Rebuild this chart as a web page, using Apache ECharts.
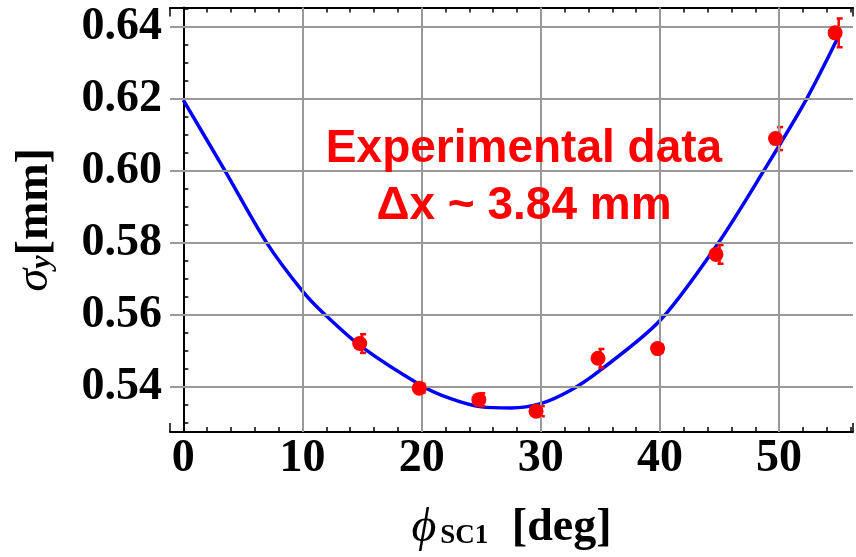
<!DOCTYPE html>
<html>
<head>
<meta charset="utf-8">
<script src="https://cdn.jsdelivr.net/npm/echarts@6/dist/echarts.min.js"></script>
</head>
<body style="margin:0">
<div id="main" style="width:856px;height:557px"></div>
<script type="text/javascript">
// grid line positions
var xGrid = [10, 20, 30, 40, 50];
var yGrid = [0.54, 0.56, 0.58, 0.60, 0.62, 0.64];

// measured points (disk centres as drawn, bars at nominal angle)
var angleNominal = [15, 20, 25, 30, 35, 40, 45, 50, 55];
var angleMarker = [14.8, 19.8, 24.8, 29.6, 34.8, 39.8, 44.7, 49.7, 54.7];
var sigmaMeasured = [0.5520, 0.5396, 0.5364, 0.5332, 0.5479, 0.5506, 0.5768, 0.6090, 0.6384];
var sigmaError = [0.0026, 0.0012, 0.0018, 0.0014, 0.0026, 0.0010, 0.0026, 0.0032, 0.0040];

// fitted curve
var fitAngle = [0, 3.5, 7, 10, 11.9, 15, 20, 22.5, 25, 27.5, 30, 32.5, 35, 40, 44.9, 48.7, 52.3, 55];
var fitSigma = [0.6197, 0.6000, 0.5800, 0.5666, 0.5600, 0.5510, 0.5403, 0.5366, 0.5344, 0.5341, 0.5353, 0.5390, 0.5446, 0.5584, 0.5800, 0.6000, 0.6200, 0.6375];

var serif = 'Liberation Serif';

var fitData = fitAngle.map(function (a, i) { return [a, fitSigma[i]]; });
var markerData = angleMarker.map(function (a, i) { return [a, sigmaMeasured[i]]; });
var errData = angleNominal.map(function (a, i) { return [a, sigmaMeasured[i], sigmaError[i]]; });

var gridLines = xGrid.map(function (v) { return {xAxis: v}; })
    .concat(yGrid.map(function (v) { return {yAxis: v}; }));

function isMultiple(v, step) {
    var q = v / step;
    return Math.abs(q - Math.round(q)) < 1e-6;
}

var tickStyle = {show: true, inside: true, length: 9, lineStyle: {color: '#000', width: 1.5}};
var axisLineStyle = {show: true, lineStyle: {color: '#000', width: 2}};

var myChart = echarts.init(document.getElementById('main'));
var option = {
    backgroundColor: '#fff',
    animation: false,
    grid: {left: 170, top: 7.5, right: -3.6, bottom: 121},
    xAxis: [{
        type: 'value', min: -1.12, max: 56.2, splitNumber: 5,
        axisLine: axisLineStyle,
        axisTick: tickStyle,
        minorTick: {show: true, splitNumber: 5, length: 5, lineStyle: {color: '#000', width: 1.5}},
        splitLine: {show: false},
        axisLabel: {
            margin: 4, color: '#000', fontFamily: serif, fontWeight: 'bold', fontSize: 46,
            formatter: function (v) { return isMultiple(v, 10) ? String(Math.round(v)) : ''; }
        },
        name: '{phi|\u03d5}{sub|SC1}{u| [deg]}',
        nameLocation: 'middle', nameGap: 72,
        nameTextStyle: {
            color: '#000',
            rich: {
                phi: {fontFamily: serif, fontStyle: 'italic', fontSize: 48, color: '#000'},
                sub: {fontFamily: serif, fontWeight: 'bold', fontSize: 27, color: '#000', padding: [16, 12, 0, 4]},
                u: {fontFamily: serif, fontWeight: 'bold', fontSize: 46, color: '#000'}
            }
        }
    }, {
        type: 'value', position: 'top', min: -1.12, max: 56.2, splitNumber: 5,
        axisLine: axisLineStyle,
        axisTick: tickStyle,
        minorTick: {show: true, splitNumber: 5, length: 5, lineStyle: {color: '#000', width: 1.5}},
        splitLine: {show: false},
        axisLabel: {show: false}
    }],
    yAxis: [{
        type: 'value', min: 0.52741, max: 0.64545, splitNumber: 5,
        axisLine: axisLineStyle,
        axisTick: tickStyle,
        minorTick: {show: true, splitNumber: 4, length: 5, lineStyle: {color: '#000', width: 1.5}},
        splitLine: {show: false},
        axisLabel: {
            margin: 8, color: '#000', fontFamily: serif, fontWeight: 'bold', fontSize: 46,
            formatter: function (v) { return isMultiple(v, 0.02) ? v.toFixed(2) : ''; }
        },
        name: '{s|\u03c3}{sub|y}{u|[mm]}',
        nameLocation: 'middle', nameGap: 112, nameRotate: 90,
        nameTextStyle: {
            color: '#000',
            rich: {
                s: {fontFamily: serif, fontStyle: 'italic', fontSize: 46, color: '#000'},
                sub: {fontFamily: serif, fontStyle: 'italic', fontWeight: 'bold', fontSize: 30, color: '#000', padding: [14, 0, 0, 0]},
                u: {fontFamily: serif, fontWeight: 'bold', fontSize: 46, color: '#000'}
            }
        }
    }],
    graphic: [{
        type: 'text', x: 524, y: 121, z: 10,
        style: {
            text: 'Experimental data\n\u0394x ~ 3.84 mm',
            fill: '#ff0000', font: 'bold 46px "Liberation Sans"',
            align: 'center', verticalAlign: 'top', lineHeight: 57
        }
    }],
    series: [{
        type: 'line', data: [], z: 1, silent: true,
        markLine: {
            silent: true, symbol: ['none', 'none'], label: {show: false},
            lineStyle: {color: '#999999', width: 2, type: 'solid'},
            data: gridLines
        }
    }, {
        type: 'line', data: fitData, smooth: 0.3, showSymbol: false, z: 3,
        lineStyle: {color: '#0000ff', width: 3.5}
    }, {
        type: 'custom', data: errData, z: 4,
        renderItem: function (params, api) {
            var x = api.value(0), y = api.value(1), e = api.value(2);
            var top = api.coord([x, y + e]);
            var bot = api.coord([x, y - e]);
            var st = {stroke: '#ff0000', lineWidth: 2.5};
            return {
                type: 'group', children: [
                    {type: 'line', shape: {x1: top[0], y1: top[1], x2: bot[0], y2: bot[1]}, style: st},
                    {type: 'line', shape: {x1: top[0] - 2, y1: top[1], x2: top[0] + 4, y2: top[1]}, style: st},
                    {type: 'line', shape: {x1: bot[0] - 2, y1: bot[1], x2: bot[0] + 4, y2: bot[1]}, style: st}
                ]
            };
        }
    }, {
        type: 'scatter', data: markerData, z: 5, symbolSize: 15,
        itemStyle: {color: '#ff0000', opacity: 1}
    }]
};
myChart.setOption(option);
</script>
</body>
</html>
